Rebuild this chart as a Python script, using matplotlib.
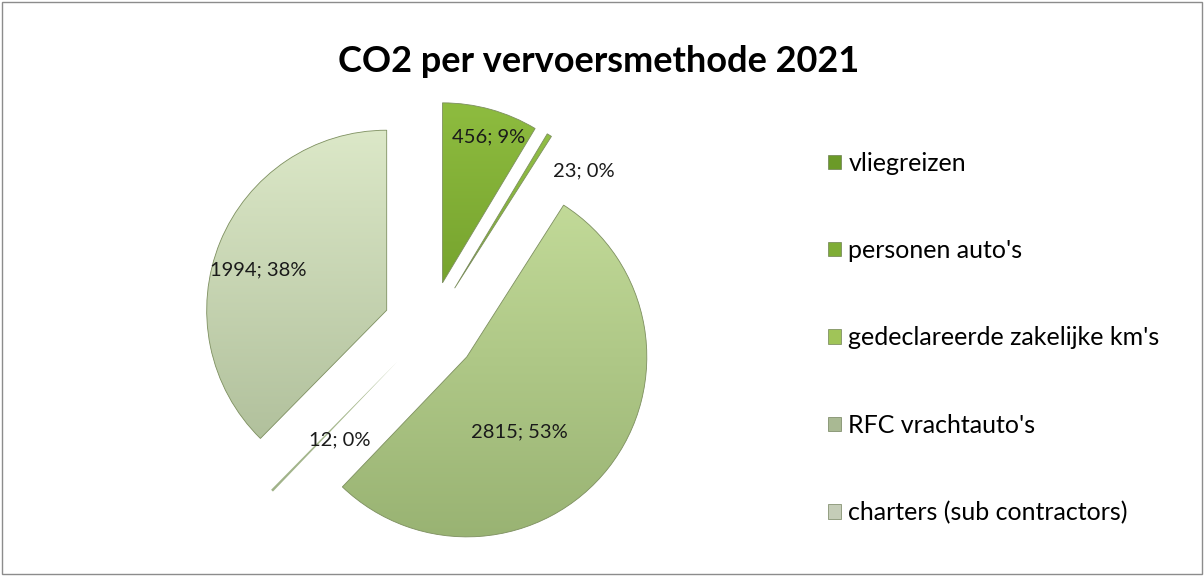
import numpy as np
import matplotlib
matplotlib.use("Agg")
import matplotlib.pyplot as plt
from matplotlib.colors import LinearSegmentedColormap
from matplotlib.patches import Rectangle, Patch

plt.rcParams['font.family'] = ['Lato', 'DejaVu Sans']

categories = ["vliegreizen", "personen auto's", "gedeclareerde zakelijke km's",
              "RFC vrachtauto's", "charters (sub contractors)"]
values = [456, 23, 2815, 12, 1994]
percent_labels = ["9%", "0%", "53%", "0%", "38%"]

# gradient top / bottom colours per slice, flat colour for legend
top_colors = ['#8fbd40', '#95c248', '#c6de9c', '#c2d4a6', '#dde9c9']
bottom_colors = ['#5e8a1c', '#6a9626', '#98b272', '#9aac84', '#a9b994']
legend_colors = ['#6b9a28', '#7fad36', '#a0c458', '#a9b993', '#c5cdb8']

# label placement: radial factor and angle shift (deg) from wedge mid
label_r = [0.85, 0.97, 0.51, 0.54, 0.75]
label_dt = [-2, -16, -17, 8, 5]

fig = plt.figure(figsize=(12.04, 5.76), dpi=100)
ax = fig.add_axes([142 / 1204, 0, 576 / 1204, 1])

wedges, _ = ax.pie(values, startangle=90, counterclock=False, radius=1,
                   explode=[0.26] * len(values),
                   wedgeprops=dict(linewidth=0.6, edgecolor='#7d8f5f'))
ax.set_xlim(-1.6, 1.6)
ax.set_ylim(-1.378, 1.822)
ax.set_aspect('equal')
ax.axis('off')

grad = np.linspace(1, 0, 256).reshape(-1, 1)
for i, w in enumerate(wedges):
    w.set_facecolor('none')
    if values[i] < 20:
        w.set_linewidth(0)
    cmap = LinearSegmentedColormap.from_list('g%d' % i, [bottom_colors[i], top_colors[i]])
    cx, cy = w.center
    im = ax.imshow(grad, cmap=cmap, aspect='auto',
                   extent=[cx - 1.05, cx + 1.05, cy - 1.05, cy + 1.05],
                   zorder=w.get_zorder() - 0.1, vmin=0, vmax=1)
    im.set_clip_path(w)

    mid = np.deg2rad((w.theta1 + w.theta2) / 2 + label_dt[i])
    tx = cx + label_r[i] * np.cos(mid)
    ty = cy + label_r[i] * np.sin(mid)
    ax.text(tx, ty, "%d; %s" % (values[i], percent_labels[i]),
            ha='center', va='center', fontsize=14.5, color='#1a1a1a')

fig.text(0.497, 0.893, "CO2 per vervoersmethode 2021", ha='center', va='center',
         fontsize=26, fontweight='bold', color='black')

handles = [Patch(facecolor=c, edgecolor='#5a6a40', linewidth=0.4) for c in legend_colors]
fig.legend(handles, categories, loc='center left', bbox_to_anchor=(0.688, 0.413),
           frameon=False, fontsize=18, handlelength=0.5, handleheight=0.5,
           handletextpad=0.3, labelspacing=2.57, borderpad=0, borderaxespad=0)

fig.patches.append(Rectangle((0.0015, 0.003), 0.997, 0.994, transform=fig.transFigure,
                             fill=False, edgecolor='#8c8c8c', linewidth=1))

plt.savefig('out.png', dpi=100, transparent=False)
